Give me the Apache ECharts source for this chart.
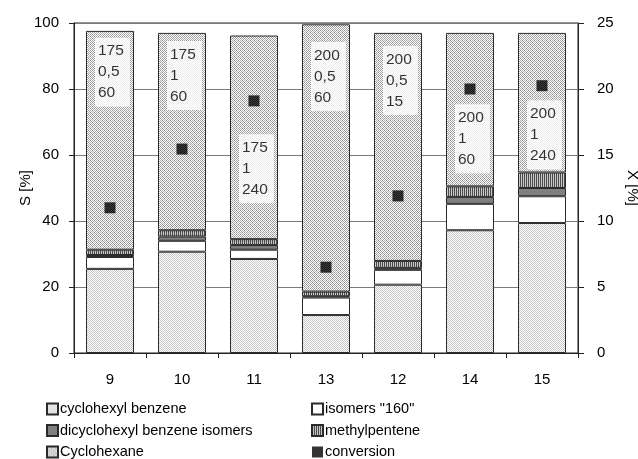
<!DOCTYPE html>
<html>
<head>
<meta charset="utf-8">
<script src="https://cdn.jsdelivr.net/npm/echarts@6/dist/echarts.min.js"></script>
<style>
  html, body { margin: 0; padding: 0; background: #fff; }
  #chart { width: 638px; height: 459px; }
</style>
</head>
<body>
<div id="chart"></div>
<script>
// Experiment numbers along the x axis
const categories = ['9', '10', '11', '13', '12', '14', '15'];

// Selectivity S [%] per product (stacked segments)
const cyclohexylBenzene = [25.5, 30.7, 28.5, 11.5, 20.7, 37.2, 39.4];
const isomers160 = [3.6, 3.3, 2.8, 5.3, 4.5, 8.0, 8.1];
const dicyclohexylBenzene = [0.6, 1.3, 1.4, 0.4, 0.6, 2.1, 2.5];
const methylpentene = [1.6, 1.9, 1.8, 1.4, 2.1, 3.2, 4.7];
const cyclohexane = [66.3, 59.8, 61.7, 81.0, 69.1, 46.5, 42.3];

// Conversion X [%]
const conversion = [11.0, 15.45, 19.1, 6.5, 11.9, 20.0, 20.25];

// Reaction conditions written on each bar, and the S value they sit at
const conditionNotes = [
  ['175', '0,5', '60'],
  ['175', '1', '60'],
  ['175', '1', '240'],
  ['200', '0,5', '60'],
  ['200', '0,5', '15'],
  ['200', '1', '60'],
  ['200', '1', '240']
];
const noteAnchorS = [85.1, 84.1, 55.8, 83.8, 82.6, 64.9, 66.1];

// Axis ranges
const sAxisRange = { min: 0, max: 100, interval: 20 };
const xAxisRange = { min: 0, max: 25, interval: 5 };

// Small tiled canvases used as fill patterns
function makeTile(rows, palette) {
  const c = document.createElement('canvas');
  c.width = rows[0].length;
  c.height = rows.length;
  const ctx = c.getContext('2d');
  rows.forEach((row, y) => {
    for (let x = 0; x < row.length; x++) {
      ctx.fillStyle = palette[row[x]];
      ctx.fillRect(x, y, 1, 1);
    }
  });
  return { image: c, repeat: 'repeat' };
}

const lightDots = makeTile(['GW', 'WG'], { G: '#c8c8c8', W: '#ffffff' });
const denseDots = makeTile(['GWDW', 'WGWG', 'DWGW', 'WGWG'],
  { D: '#8a8a8a', G: '#a8a8a8', W: '#ffffff' });
const stripes = makeTile(['DL'], { D: '#4a4a4a', L: '#c8c8c8' });

const FONT = 'Liberation Sans, Arial, sans-serif';
const edge = { borderColor: '#2a2a2a', borderWidth: 1 };

function stackSeries(name, values, color) {
  return {
    name: name,
    type: 'bar',
    stack: 'S',
    barCategoryGap: '33.3%',
    data: values,
    itemStyle: Object.assign({ color: color }, edge),
    emphasis: { disabled: true },
    silent: true
  };
}

const legendBase = {
  orient: 'vertical',
  top: 401,
  height: 70,
  padding: 0,
  icon: 'rect',
  itemWidth: 11, itemHeight: 11, itemGap: 5.5,
  textStyle: { fontSize: 14.5, color: '#000', fontFamily: FONT, lineHeight: 16, padding: [0, 0, 0, -3] },
  selectedMode: false
};

const chart = echarts.init(document.getElementById('chart'), null, { renderer: 'canvas' });

chart.setOption({
  animation: false,
  backgroundColor: '#ffffff',
  textStyle: { fontFamily: FONT },
  grid: {
    left: 74, right: 60, top: 23, bottom: 106,
    containLabel: false,
    outerBoundsMode: 'none',
    show: true, borderColor: '#222', borderWidth: 1, backgroundColor: 'transparent'
  },
  legend: [
    Object.assign({}, legendBase, {
      left: 46,
      data: ['cyclohexyl benzene', 'dicyclohexyl benzene isomers', 'Cyclohexane']
    }),
    Object.assign({}, legendBase, {
      left: 311,
      data: ['isomers "160"', 'methylpentene', 'conversion']
    })
  ],
  xAxis: {
    type: 'category',
    data: categories,
    axisLine: { lineStyle: { color: '#222', width: 1 } },
    axisTick: { show: true, length: 5, lineStyle: { color: '#222' } },
    axisLabel: { fontSize: 15, color: '#000', margin: 19, fontFamily: FONT },
    splitLine: { show: false }
  },
  yAxis: [
    {
      type: 'value',
      min: sAxisRange.min, max: sAxisRange.max, interval: sAxisRange.interval,
      name: 'S [%]',
      nameLocation: 'middle',
      nameRotate: 90,
      nameGap: 41,
      nameMoveOverlap: false,
      nameTextStyle: { fontSize: 15, color: '#000', fontFamily: FONT },
      axisLine: { show: true, lineStyle: { color: '#222', width: 1 } },
      axisTick: { show: true, length: 5, lineStyle: { color: '#222' } },
      axisLabel: { fontSize: 15, color: '#000', margin: 15, fontFamily: FONT },
      splitLine: { show: true, lineStyle: { color: '#7a7a7a', width: 1 } }
    },
    {
      type: 'value',
      position: 'right',
      min: xAxisRange.min, max: xAxisRange.max, interval: xAxisRange.interval,
      name: 'X [%]',
      nameLocation: 'middle',
      nameRotate: -90,
      nameGap: 47,
      nameMoveOverlap: false,
      nameTextStyle: { fontSize: 15, color: '#000', fontFamily: FONT },
      axisLine: { show: true, lineStyle: { color: '#222', width: 1 } },
      axisTick: { show: true, length: 6, lineStyle: { color: '#222' } },
      axisLabel: { fontSize: 15, color: '#000', margin: 19, fontFamily: FONT },
      splitLine: { show: false }
    }
  ],
  series: [
    stackSeries('cyclohexyl benzene', cyclohexylBenzene, lightDots),
    stackSeries('isomers "160"', isomers160, '#ffffff'),
    stackSeries('dicyclohexyl benzene isomers', dicyclohexylBenzene, '#808080'),
    stackSeries('methylpentene', methylpentene, stripes),
    stackSeries('Cyclohexane', cyclohexane, denseDots),
    {
      name: 'notes',
      type: 'scatter',
      yAxisIndex: 0,
      symbolSize: 1,
      itemStyle: { color: 'rgba(0,0,0,0)' },
      silent: true,
      z: 5,
      data: categories.map((c, i) => [c, noteAnchorS[i]]),
      label: {
        show: true,
        position: 'inside',
        align: 'left',
        offset: [-15, 0],
        formatter: (p) => conditionNotes[p.dataIndex].join('\n'),
        fontSize: 15.5,
        lineHeight: 21,
        color: '#000',
        fontFamily: FONT,
        backgroundColor: '#ffffff',
        padding: [4, 6, 2, 3]
      }
    },
    {
      name: 'conversion',
      type: 'scatter',
      yAxisIndex: 1,
      symbol: 'rect',
      symbolSize: 11,
      itemStyle: { color: '#000' },
      silent: true,
      z: 6,
      data: categories.map((c, i) => [c, conversion[i]])
    }
  ]
});
</script>
</body>
</html>
